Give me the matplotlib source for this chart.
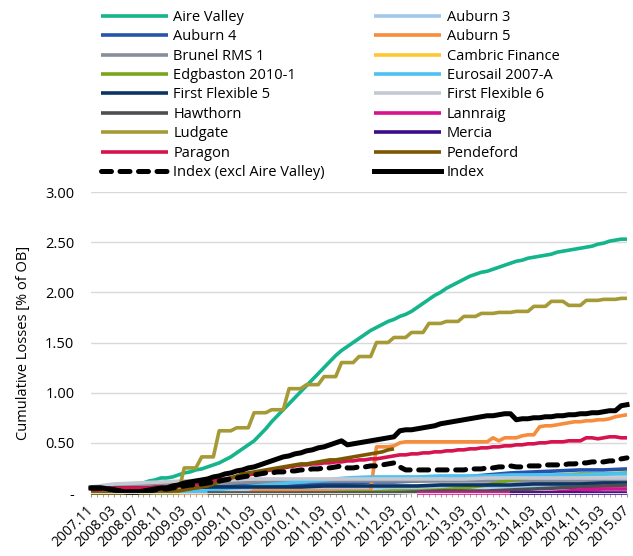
import numpy as np
import pandas as pd
import matplotlib
matplotlib.use("Agg")
import matplotlib.pyplot as plt

plt.rcParams["font.family"] = ["Open Sans", "DejaVu Sans"]
plt.rcParams["font.size"] = 10

# monthly categories 2007.11 .. 2015.07
months = pd.period_range("2007-11", periods=93, freq="M")
month_labels = [p.strftime("%Y.%m") for p in months]

# ---- monthly series (% of OB) ----
aire_valley = [0.05, 0.05, 0.06, 0.06, 0.06, 0.07, 0.07, 0.08, 0.09, 0.10,
               0.12, 0.13, 0.15, 0.15, 0.16, 0.18, 0.20, 0.21, 0.23, 0.24,
               0.26, 0.28, 0.30, 0.33, 0.36, 0.40, 0.44, 0.48, 0.52, 0.58,
               0.64, 0.71, 0.77, 0.83, 0.89, 0.95, 1.01, 1.07, 1.13, 1.19,
               1.25, 1.31, 1.37, 1.42, 1.46, 1.50, 1.54, 1.58, 1.62, 1.65,
               1.68, 1.71, 1.73, 1.76, 1.78, 1.81, 1.85, 1.89, 1.93, 1.97,
               2.00, 2.04, 2.07, 2.10, 2.13, 2.16, 2.18, 2.20, 2.21, 2.23,
               2.25, 2.27, 2.29, 2.31, 2.32, 2.34, 2.35, 2.36, 2.37, 2.38,
               2.40, 2.41, 2.42, 2.43, 2.44, 2.45, 2.46, 2.48, 2.49, 2.51,
               2.52, 2.53, 2.53]

ludgate = [0.00, 0.00, 0.00, 0.00, 0.00, 0.00, 0.00, 0.00, 0.00, 0.00,
           0.00, 0.00, 0.00, 0.00, 0.00, 0.00,
           0.25, 0.25, 0.25, 0.36, 0.36, 0.36, 0.62, 0.62, 0.62,
           0.65, 0.65, 0.65, 0.80, 0.80, 0.80, 0.83, 0.83, 0.83,
           1.04, 1.04, 1.04, 1.08, 1.08, 1.08, 1.16, 1.16, 1.16,
           1.30, 1.30, 1.30, 1.36, 1.36, 1.36, 1.50, 1.50, 1.50,
           1.55, 1.55, 1.55, 1.60, 1.60, 1.60, 1.69, 1.69, 1.69,
           1.71, 1.71, 1.71, 1.76, 1.76, 1.76, 1.79, 1.79, 1.79,
           1.80, 1.80, 1.80, 1.81, 1.81, 1.81, 1.86, 1.86, 1.86,
           1.91, 1.91, 1.91, 1.87, 1.87, 1.87, 1.92, 1.92, 1.92,
           1.93, 1.93, 1.93, 1.94, 1.94]

index_all = [0.05, 0.05, 0.05, 0.04, 0.03, 0.02, 0.01, 0.01, 0.01, 0.02,
             0.03, 0.04, 0.05, 0.05, 0.07, 0.08, 0.10, 0.11, 0.12, 0.13,
             0.14, 0.16, 0.17, 0.19, 0.20, 0.22, 0.23, 0.25, 0.26, 0.28,
             0.30, 0.32, 0.34, 0.36, 0.37, 0.39, 0.40, 0.42, 0.43, 0.45,
             0.46, 0.48, 0.50, 0.52, 0.48, 0.49, 0.50, 0.51, 0.52, 0.53,
             0.54, 0.55, 0.56, 0.62, 0.63, 0.63, 0.64, 0.65, 0.66, 0.67,
             0.69, 0.70, 0.71, 0.72, 0.73, 0.74, 0.75, 0.76, 0.77, 0.77,
             0.78, 0.79, 0.79, 0.73, 0.74, 0.74, 0.75, 0.75, 0.76, 0.76,
             0.77, 0.77, 0.78, 0.78, 0.79, 0.79, 0.80, 0.80, 0.81, 0.82,
             0.82, 0.87, 0.88]

index_excl = [0.05, 0.05, 0.05, 0.04, 0.03, 0.02, 0.01, 0.01, 0.01, 0.02,
              0.02, 0.03, 0.04, 0.04, 0.05, 0.06, 0.07, 0.08, 0.08, 0.09,
              0.10, 0.11, 0.12, 0.13, 0.14, 0.15, 0.16, 0.17, 0.18, 0.19,
              0.20, 0.20, 0.21, 0.21, 0.22, 0.22, 0.23, 0.23, 0.24, 0.24,
              0.25, 0.25, 0.26, 0.27, 0.25, 0.25, 0.26, 0.26, 0.27, 0.27,
              0.28, 0.29, 0.30, 0.26, 0.23, 0.23, 0.23, 0.23, 0.23, 0.23,
              0.23, 0.23, 0.23, 0.23, 0.23, 0.24, 0.24, 0.24, 0.25, 0.25,
              0.26, 0.26, 0.27, 0.26, 0.26, 0.27, 0.27, 0.27, 0.28, 0.28,
              0.28, 0.28, 0.29, 0.29, 0.30, 0.30, 0.31, 0.31, 0.31, 0.32,
              0.32, 0.34, 0.35]

paragon = [0.02, 0.03, 0.04, 0.05, 0.05, 0.05, 0.05, 0.05, 0.05, 0.05,
           0.05, 0.06, 0.06, 0.06, 0.07, 0.07, 0.08, 0.08, 0.09, 0.10,
           0.11, 0.12, 0.13, 0.14, 0.15, 0.16, 0.17, 0.18, 0.19, 0.21,
           0.22, 0.23, 0.24, 0.25, 0.26, 0.27, 0.28, 0.28, 0.29, 0.29,
           0.30, 0.30, 0.31, 0.31, 0.32, 0.32, 0.33, 0.33, 0.34, 0.34,
           0.35, 0.36, 0.37, 0.38, 0.38, 0.39, 0.39, 0.40, 0.40, 0.41,
           0.41, 0.42, 0.42, 0.43, 0.43, 0.44, 0.44, 0.45, 0.45, 0.46,
           0.46, 0.47, 0.47, 0.48, 0.48, 0.49, 0.49, 0.50, 0.50, 0.51,
           0.51, 0.51, 0.52, 0.52, 0.52, 0.55, 0.55, 0.54, 0.55, 0.56,
           0.56, 0.55, 0.55]

# Pendeford stops at 2012.03
pendeford = [0.00, 0.00, 0.00, 0.00, 0.00, 0.00, 0.00, 0.00, 0.00, 0.00,
             0.00, 0.01, 0.01, 0.01, 0.02, 0.02, 0.03, 0.04, 0.05, 0.06,
             0.07, 0.09, 0.11, 0.13, 0.15, 0.17, 0.19, 0.20, 0.21, 0.22,
             0.23, 0.24, 0.25, 0.26, 0.27, 0.28, 0.29, 0.29, 0.30, 0.31,
             0.32, 0.33, 0.33, 0.34, 0.35, 0.36, 0.37, 0.38, 0.39, 0.40,
             0.41, 0.43, 0.44]

auburn_5 = [0.00, 0.00, 0.00, 0.00, 0.00, 0.00, 0.00, 0.00, 0.00, 0.00,
            0.00, 0.00, 0.00, 0.00, 0.00, 0.00, 0.00, 0.00, 0.00, 0.00,
            0.00, 0.00, 0.00, 0.00, 0.00, 0.00, 0.00, 0.00, 0.02, 0.02,
            0.02, 0.02, 0.02, 0.02, 0.02, 0.02, 0.02, 0.02, 0.02, 0.02,
            0.02, 0.02, 0.02, 0.02, 0.02, 0.02, 0.02, 0.02, 0.02, 0.46,
            0.46, 0.46, 0.47, 0.50, 0.51, 0.51, 0.51, 0.51, 0.51, 0.51,
            0.51, 0.51, 0.51, 0.51, 0.51, 0.51, 0.51, 0.51, 0.51, 0.55,
            0.52, 0.55, 0.55, 0.55, 0.57, 0.58, 0.58, 0.66, 0.67, 0.67,
            0.68, 0.69, 0.70, 0.71, 0.71, 0.72, 0.72, 0.73, 0.73, 0.74,
            0.76, 0.77, 0.78]

# ---- small series, read every 4 months (2007.11, 2008.03, ...) ----
auburn_3 = [0.02, 0.02, 0.02, 0.03, 0.03, 0.03, 0.04, 0.04, 0.04, 0.04, 0.05, 0.05,
            0.05, 0.05, 0.05, 0.06, 0.06, 0.06, 0.06, 0.06, 0.07, 0.07, 0.07, 0.07]
auburn_4 = [0.01, 0.02, 0.03, 0.04, 0.05, 0.06, 0.07, 0.08, 0.09, 0.09, 0.10, 0.10,
            0.11, 0.11, 0.12, 0.13, 0.16, 0.18, 0.20, 0.21, 0.22, 0.23, 0.23, 0.24]
brunel_rms_1 = [0.03, 0.05, 0.07, 0.08, 0.09, 0.10, 0.10, 0.11, 0.11, 0.11, 0.12, 0.12,
                0.12, 0.12, 0.12, 0.12, 0.12, 0.12, 0.12, 0.12, 0.12, 0.12, 0.12, 0.12]
cambric = [None, None, None, None, None, 0.00, 0.00, 0.00, 0.00, 0.00, 0.00, 0.00,
           0.00, None, None, None, None, None, None, None, None, None, None, None]
edgbaston = [None, None, None, None, None, None, None, None, None, 0.00, 0.00, 0.01,
             0.01, 0.02, 0.02, 0.03, 0.05, 0.08, 0.13, 0.16, 0.18, 0.19, 0.19, 0.20]
eurosail = [0.00, 0.00, 0.00, 0.00, 0.01, 0.02, 0.05, 0.07, 0.09, 0.11, 0.13, 0.15,
            0.16, 0.16, 0.16, 0.17, 0.17, 0.17, 0.18, 0.18, 0.18, 0.18, 0.19, 0.19]
first_flex_5 = [0.05, 0.05, 0.05, 0.05, 0.05, 0.06, 0.06, 0.06, 0.06, 0.06, 0.07, 0.07,
                0.07, 0.07, 0.07, 0.08, 0.08, 0.08, 0.08, 0.09, 0.09, 0.09, 0.10, 0.10]
first_flex_6 = [0.06, 0.09, 0.10, 0.11, 0.12, 0.13, 0.13, 0.14, 0.14, 0.14, 0.14, 0.14,
                0.14, 0.14, 0.14, 0.14, 0.14, 0.15, 0.15, 0.15, 0.15, 0.15, 0.15, 0.15]
hawthorn = [None, None, None, None, None, 0.00, 0.00, 0.00, 0.00, 0.00, 0.00, 0.00,
            0.00, 0.00, 0.01, 0.02, 0.02, 0.02, 0.03, 0.04, 0.05, 0.06, 0.07, 0.08]
lannraig = [None, None, None, None, None, None, None, None, None, None, None, None,
            None, None, 0.00, 0.00, 0.00, 0.00, 0.00, 0.00, 0.01, 0.03, 0.04, 0.04]
mercia = [None, None, None, None, None, None, None, None, None, None, None, None,
          None, None, None, None, None, None, 0.00, 0.00, 0.00, 0.00, 0.00, 0.00]

x_month = np.arange(len(months))
x_4m = x_month[::4]

series = [
    ("Aire Valley", x_month, aire_valley, "#14b48c"),
    ("Auburn 3", x_4m, auburn_3, "#a2c8ea"),
    ("Auburn 4", x_4m, auburn_4, "#2454ad"),
    ("Auburn 5", x_month, auburn_5, "#f68c3c"),
    ("Brunel RMS 1", x_4m, brunel_rms_1, "#878e99"),
    ("Cambric Finance", x_4m, cambric, "#ffc630"),
    ("Edgbaston 2010-1", x_4m, edgbaston, "#79a51b"),
    ("Eurosail 2007-A", x_4m, eurosail, "#4dc2f2"),
    ("First Flexible 5", x_4m, first_flex_5, "#0c3464"),
    ("First Flexible 6", x_4m, first_flex_6, "#c4c8d2"),
    ("Hawthorn", x_4m, hawthorn, "#4e4f52"),
    ("Lannraig", x_4m, lannraig, "#d8128b"),
    ("Ludgate", x_month, ludgate, "#a59a36"),
    ("Mercia", x_4m, mercia, "#3b0b8a"),
    ("Paragon", x_month, paragon, "#d6134c"),
    ("Pendeford", x_month[:len(pendeford)], pendeford, "#7a5700"),
]

fig = plt.figure(figsize=(6.33, 5.56), dpi=100)
ax = fig.add_axes([91 / 633, 63 / 556, 536 / 633, 301 / 556])

handles = []
for name, xs, ys, col in series:
    yv = np.array([np.nan if v is None else v for v in ys], dtype=float)
    (ln,) = ax.plot(xs, yv, color=col, lw=2.6, label=name,
                    solid_capstyle="butt", clip_on=False)
    handles.append(ln)

(ln_ex,) = ax.plot(x_month, index_excl, color="black", lw=3.6,
                   dashes=(2.0, 1.7), dash_capstyle="round",
                   label="Index (excl Aire Valley)", clip_on=False)
(ln_ix,) = ax.plot(x_month, index_all, color="black", lw=3.6,
                   label="Index", clip_on=False)
handles += [ln_ex, ln_ix]

ax.set_xlim(0, 92)
ax.set_ylim(0, 3.0)
ax.set_yticks(np.arange(0, 3.01, 0.5))
ax.set_yticklabels(["-"] + [f"{v:.2f}" for v in np.arange(0.5, 3.01, 0.5)])
ax.set_xticks(x_month[::4])
ax.set_xticklabels(month_labels[::4], rotation=45, ha="right", va="center",
                   rotation_mode="anchor")
ax.set_xticks(x_month, minor=True)
ax.tick_params(axis="y", length=0, pad=12, labelsize=10.5)
ax.tick_params(axis="x", which="both", length=3, color="#999999",
               pad=8, labelsize=10)
ax.grid(axis="y", color="#d9d9d9", lw=1)
ax.set_axisbelow(True)
for s in ["top", "right", "left"]:
    ax.spines[s].set_visible(False)
ax.spines["bottom"].set_color("#d9d9d9")
ax.set_ylabel("Cumulative Losses [% of OB]", fontsize=10.5, labelpad=10)

# legend filled row by row, two columns
order = handles[0::2] + handles[1::2]
fig.legend(handles=order, labels=[h.get_label() for h in order],
           loc="upper left", bbox_to_anchor=(101 / 633, 1 - 10 / 556),
           ncol=2, frameon=False, fontsize=10.5, handlelength=4.6,
           handletextpad=0.35, columnspacing=3.4, labelspacing=0.3,
           borderpad=0, borderaxespad=0)

fig.savefig("out.png", dpi=100)
